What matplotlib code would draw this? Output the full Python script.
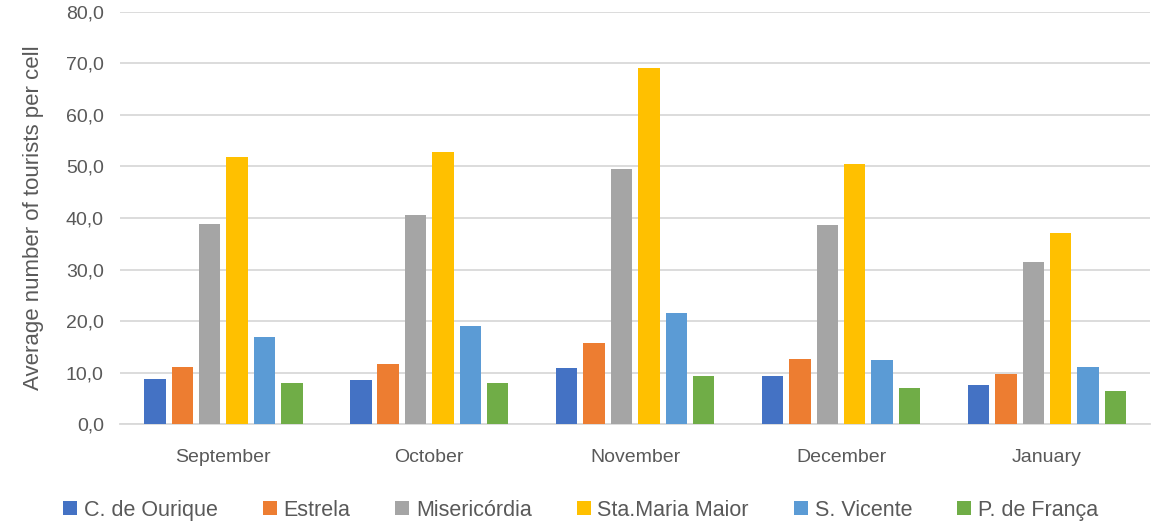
import numpy as np
import matplotlib.pyplot as plt
from matplotlib.ticker import FuncFormatter

months = ['September', 'October', 'November', 'December', 'January']
parishes = ['C. de Ourique', 'Estrela', 'Misericórdia', 'Sta.Maria Maior', 'S. Vicente', 'P. de França']
colors = ['#4472C4', '#ED7D31', '#A5A5A5', '#FFC000', '#5B9BD5', '#70AD47']

c_ourique = [8.9, 8.7, 11.0, 9.4, 7.6]
estrela = [11.2, 11.7, 15.8, 12.7, 9.7]
misericordia = [38.9, 40.6, 49.5, 38.6, 31.5]
sta_maria = [51.8, 52.8, 69.0, 50.5, 37.1]
s_vicente = [16.9, 19.1, 21.6, 12.4, 11.2]
p_franca = [8.1, 8.1, 9.4, 7.1, 6.4]

series = [c_ourique, estrela, misericordia, sta_maria, s_vicente, p_franca]

plt.rcParams['font.family'] = ['Liberation Sans', 'DejaVu Sans']

fig, ax = plt.subplots(figsize=(11.58, 5.24), dpi=100)
fig.subplots_adjust(left=0.104, right=0.993, top=0.978, bottom=0.19)

x = np.arange(len(months))
slot = 0.133
bw = 0.104
for i, (name, vals) in enumerate(zip(parishes, series)):
    ax.bar(x + (i - 2.5) * slot, vals, bw, color=colors[i], label=name, zorder=3)

ax.set_xlim(-0.5, 4.5)
ax.set_ylim(0, 80)
ax.set_yticks(np.arange(0, 81, 10))
ax.yaxis.set_major_formatter(FuncFormatter(lambda v, p: f'{v:.1f}'.replace('.', ',')))
ax.set_xticks(x)
ax.set_xticklabels(months)
ax.grid(axis='y', color='#D9D9D9', linewidth=1.3, zorder=0)
for s in ['top', 'right', 'left']:
    ax.spines[s].set_visible(False)
ax.spines['bottom'].set_color('#D9D9D9')
ax.spines['bottom'].set_linewidth(1.3)
ax.tick_params(axis='both', length=0, labelsize=14, colors='#595959')
ax.tick_params(axis='x', pad=18)
ax.tick_params(axis='y', pad=12)
ax.set_ylabel('Average number of tourists per cell', fontsize=16, color='#595959', labelpad=16)

ax.legend(loc='upper center', bbox_to_anchor=(0.447, -0.135), ncol=6, frameon=False,
          fontsize=15.5, labelcolor='#595959', handlelength=0.65, handleheight=0.65,
          handletextpad=0.3, columnspacing=2.1)

plt.savefig('out.png', dpi=100)
